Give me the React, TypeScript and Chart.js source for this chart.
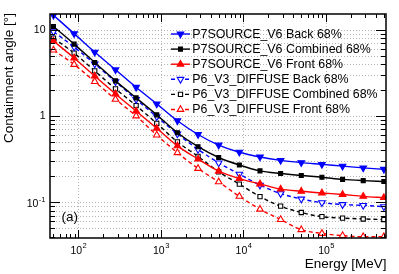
import React, { useEffect, useRef } from 'react';
import { Chart, registerables } from 'chart.js';

Chart.register(...registerables);

// ---- data ----
const energies = [50, 89, 158, 282, 501, 891, 1585, 2818, 5012, 8913, 15849, 28184, 50119, 89125, 158489, 281838, 501187];
const p7Back = [14.7, 9.0, 5.5, 3.43, 2.15, 1.38, 0.88, 0.61, 0.46, 0.38, 0.335, 0.306, 0.288, 0.275, 0.262, 0.25, 0.241];
const p7Comb = [10.9, 6.8, 4.17, 2.55, 1.62, 1.03, 0.64, 0.44, 0.33, 0.27, 0.231, 0.215, 0.204, 0.195, 0.184, 0.178, 0.174];
const p7Front = [7.4, 4.7, 2.9, 1.8, 1.14, 0.72, 0.45, 0.316, 0.229, 0.188, 0.163, 0.142, 0.134, 0.128, 0.123, 0.117, 0.113];
const p6Back = [9.5, 6.3, 4.0, 2.5, 1.55, 0.98, 0.62, 0.41, 0.286, 0.212, 0.158, 0.126, 0.109, 0.099, 0.094, 0.092, 0.089];
const p6Comb = [8.0, 5.35, 3.33, 2.06, 1.32, 0.82, 0.5, 0.34, 0.225, 0.162, 0.116, 0.09, 0.076, 0.068, 0.0655, 0.064, 0.063];
const p6Front = [5.8, 3.95, 2.5, 1.56, 1.0, 0.6, 0.375, 0.246, 0.172, 0.117, 0.083, 0.063, 0.048, 0.0435, 0.041, 0.0398, 0.0398];

const seriesLabels = [
  'P7SOURCE_V6 Back 68%',
  'P7SOURCE_V6 Combined 68%',
  'P7SOURCE_V6 Front 68%',
  'P6_V3_DIFFUSE Back 68%',
  'P6_V3_DIFFUSE Combined 68%',
  'P6_V3_DIFFUSE Front 68%',
];

const xDecades = [100, 1000, 10000, 100000];
const xDecadeExps = ['2', '3', '4', '5'];
const yDecades = [0.1, 1, 10];
const yDecadeBases = ['10', '1', '10'];
const yDecadeExps = ['-1', '', ''];

const xTitle = 'Energy [MeV]';
const yTitle = 'Containment angle [°]';
const panelLabel = '(a)';

const FONT = '"Liberation Sans", Arial, Helvetica, sans-serif';

type Style = { color: string; shape: 'tri' | 'rect'; down: boolean; filled: boolean; dashed: boolean; r: number };
const styles: Style[] = [
  { color: '#0000ff', shape: 'tri', down: true, filled: true, dashed: false, r: 3.8 },
  { color: '#000000', shape: 'rect', down: false, filled: true, dashed: false, r: 2.8 },
  { color: '#ff0000', shape: 'tri', down: false, filled: true, dashed: false, r: 3.8 },
  { color: '#0000ff', shape: 'tri', down: true, filled: false, dashed: true, r: 3.8 },
  { color: '#000000', shape: 'rect', down: false, filled: false, dashed: true, r: 3.0 },
  { color: '#ff0000', shape: 'tri', down: false, filled: false, dashed: true, r: 3.8 },
];
const seriesValues = [p7Back, p7Comb, p7Front, p6Back, p6Comb, p6Front];

function minorTicks(lo: number, hi: number): number[] {
  const out: number[] = [];
  for (let p = Math.floor(Math.log10(lo)) - 1; p <= Math.ceil(Math.log10(hi)); p++) {
    for (let m = 1; m <= 9; m++) {
      const v = m * Math.pow(10, p);
      if (v >= lo * 0.999 && v <= hi * 1.001) out.push(v);
    }
  }
  return out;
}
function isDecade(v: number) {
  const l = Math.log10(v);
  return Math.abs(l - Math.round(l)) < 1e-6;
}

function drawMarker(ctx: CanvasRenderingContext2D, s: Style, x: number, y: number) {
  ctx.save();
  ctx.beginPath();
  if (s.shape === 'rect') {
    const h = s.r * Math.SQRT1_2;
    ctx.rect(x - h, y - h, 2 * h, 2 * h);
  } else {
    const r = s.r;
    const sign = s.down ? -1 : 1;
    for (let k = 0; k < 3; k++) {
      const a = (k * 2 * Math.PI) / 3;
      const px = x + Math.sin(a) * r;
      const py = y - sign * Math.cos(a) * r;
      if (k === 0) ctx.moveTo(px, py);
      else ctx.lineTo(px, py);
    }
    ctx.closePath();
  }
  ctx.lineWidth = 1.1;
  ctx.strokeStyle = s.color;
  if (s.filled) {
    ctx.fillStyle = s.color;
    ctx.fill();
  } else {
    ctx.fillStyle = '#ffffff';
    ctx.fill();
  }
  ctx.stroke();
  ctx.restore();
}

const rootPlugin = {
  id: 'rootStyle',
  beforeDatasetsDraw(chart: any) {
    const { ctx, chartArea: a, scales } = chart;
    const x = scales.x, y = scales.y;
    ctx.save();
    ctx.strokeStyle = '#b4b4b4';
    ctx.lineWidth = 1;
    ctx.setLineDash([1, 2]);
    for (const v of xDecades) {
      const px = Math.round(x.getPixelForValue(v)) + 0.5;
      ctx.beginPath(); ctx.moveTo(px, a.top); ctx.lineTo(px, a.bottom); ctx.stroke();
    }
    for (const v of minorTicks(y.min, y.max)) {
      const py = Math.round(y.getPixelForValue(v)) + 0.5;
      if (py <= a.top + 1 || py >= a.bottom - 1) continue;
      ctx.beginPath(); ctx.moveTo(a.left, py); ctx.lineTo(a.right, py); ctx.stroke();
    }
    ctx.restore();
  },
  afterDraw(chart: any) {
    const { ctx, chartArea: a, scales } = chart;
    const x = scales.x, y = scales.y;
    ctx.save();
    ctx.setLineDash([]);
    ctx.strokeStyle = '#000';
    ctx.lineWidth = 1;
    // ticks
    for (const v of minorTicks(x.min, x.max)) {
      const px = Math.round(x.getPixelForValue(v)) + 0.5;
      const len = isDecade(v) ? 8 : 4;
      ctx.beginPath();
      ctx.moveTo(px, a.bottom); ctx.lineTo(px, a.bottom - len);
      ctx.moveTo(px, a.top); ctx.lineTo(px, a.top + len);
      ctx.stroke();
    }
    for (const v of minorTicks(y.min, y.max)) {
      const py = Math.round(y.getPixelForValue(v)) + 0.5;
      const len = isDecade(v) ? 10 : 5;
      ctx.beginPath();
      ctx.moveTo(a.left, py); ctx.lineTo(a.left + len, py);
      ctx.moveTo(a.right, py); ctx.lineTo(a.right - len, py);
      ctx.stroke();
    }
    // frame
    ctx.lineWidth = 1.5;
    ctx.strokeRect(a.left, a.top, a.right - a.left, a.bottom - a.top);

    // tick labels
    ctx.fillStyle = '#000';
    const baseFont = `10.5px ${FONT}`;
    const expFont = `7.5px ${FONT}`;
    ctx.textBaseline = 'middle';
    xDecades.forEach((v, i) => {
      const px = x.getPixelForValue(v);
      ctx.font = baseFont;
      const wb = ctx.measureText('10').width;
      ctx.font = expFont;
      const we = ctx.measureText(xDecadeExps[i]).width;
      const x0 = px - (wb + we) / 2;
      ctx.font = baseFont;
      ctx.textAlign = 'left';
      ctx.fillText('10', x0, 251);
      ctx.font = expFont;
      ctx.fillText(xDecadeExps[i], x0 + wb + 0.5, 246);
    });
    yDecades.forEach((v, i) => {
      const py = y.getPixelForValue(v);
      const exp = yDecadeExps[i];
      const right = 45.5;
      ctx.textAlign = 'right';
      if (exp) {
        ctx.font = expFont;
        const we = ctx.measureText(exp).width;
        ctx.fillText(exp, right, py - 2);
        ctx.font = baseFont;
        ctx.fillText(yDecadeBases[i], right - we - 0.5, py + 2);
      } else {
        ctx.font = baseFont;
        ctx.fillText(yDecadeBases[i], right, py);
      }
    });

    // axis titles
    ctx.font = `13.5px ${FONT}`;
    ctx.textBaseline = 'alphabetic';
    ctx.textAlign = 'right';
    ctx.fillText(xTitle, a.right + 0.5, 268);
    ctx.save();
    ctx.translate(12.5, a.top - 1);
    ctx.rotate(-Math.PI / 2);
    ctx.textAlign = 'right';
    ctx.fillText(yTitle, 0, 0);
    ctx.restore();

    // panel label
    ctx.textAlign = 'left';
    ctx.fillText(panelLabel, 61.5, 220.5);

    // legend
    ctx.font = `12.4px ${FONT}`;
    ctx.textBaseline = 'middle';
    styles.forEach((s, i) => {
      const ry = 34 + i * 15.1;
      ctx.save();
      ctx.strokeStyle = s.color;
      ctx.lineWidth = 1.4;
      ctx.setLineDash(s.dashed ? [4, 3] : []);
      ctx.beginPath(); ctx.moveTo(171, ry); ctx.lineTo(190, ry); ctx.stroke();
      ctx.restore();
      drawMarker(ctx, s, 180.5, ry);
      ctx.fillStyle = '#000';
      ctx.textAlign = 'left';
      ctx.fillText(seriesLabels[i], 192.3, ry + 0.5);
    });
    ctx.restore();
  },
};

export default function App() {
  const ref = useRef<HTMLCanvasElement | null>(null);
  useEffect(() => {
    if (!ref.current) return;
    const datasets = styles.map((s, i) => ({
      label: seriesLabels[i],
      data: energies.map((e, k) => ({ x: e, y: seriesValues[i][k] })),
      borderColor: s.color,
      backgroundColor: s.filled ? s.color : '#ffffff',
      borderWidth: 1.4,
      borderDash: s.dashed ? [4, 3] : [],
      pointStyle: s.shape === 'rect' ? 'rect' : 'triangle',
      rotation: s.down ? 180 : 0,
      pointRadius: s.r,
      pointBorderWidth: 1.1,
      pointBorderColor: s.color,
      pointBackgroundColor: s.filled ? s.color : '#ffffff',
      cubicInterpolationMode: 'monotone' as const,
      fill: false,
    }));
    const chart = new Chart(ref.current, {
      type: 'line',
      data: { datasets },
      options: {
        responsive: false,
        animation: false,
        devicePixelRatio: 1,
        layout: { padding: { left: 50, right: 13, top: 14, bottom: 36 } },
        scales: {
          x: { type: 'logarithmic', min: 45.4, max: 532000, display: false },
          y: { type: 'logarithmic', min: 0.0385, max: 15.2, display: false },
        },
        plugins: { legend: { display: false }, tooltip: { enabled: false } },
      },
      plugins: [rootPlugin],
    });
    return () => chart.destroy();
  }, []);
  return (
    <div style={{ position: 'fixed', left: 0, top: 0, width: 399, height: 274, background: '#fff' }}>
      <canvas ref={ref} width={399} height={274} style={{ display: 'block' }} />
    </div>
  );
}
